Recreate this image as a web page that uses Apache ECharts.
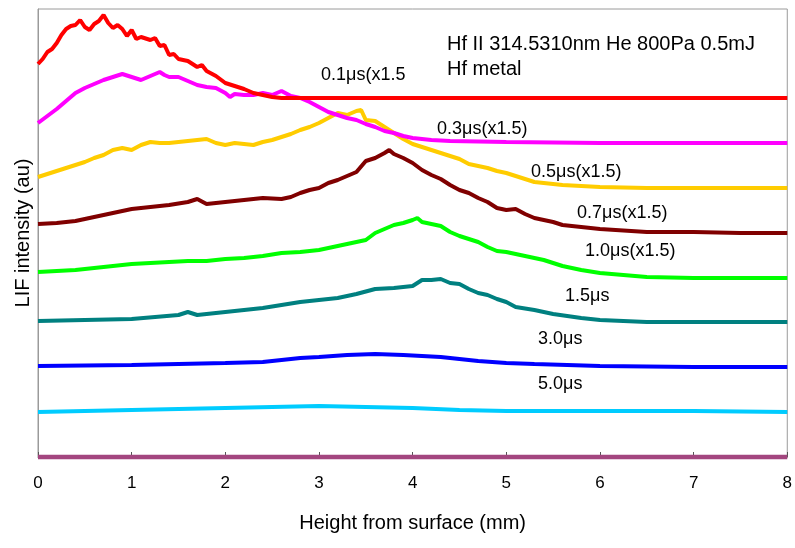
<!DOCTYPE html>
<html>
<head>
<meta charset="utf-8">
<script src="https://cdn.jsdelivr.net/npm/echarts@6/dist/echarts.min.js"></script>
<style>
  html, body { margin: 0; padding: 0; background: #fff; }
  #main { width: 795px; height: 548px; }
</style>
</head>
<body>
<div id="main"></div>
<script>
// x ticks (mm)
const xTicks = [0, 1, 2, 3, 4, 5, 6, 7, 8];

// LIF profiles, [height mm, intensity au] (curves are offset vertically like the original)
const s01 = [[0,393],[0.05,398],[0.1,405],[0.15,408],[0.2,414],[0.25,422],[0.3,428],[0.35,431],[0.4,432],[0.45,437],[0.5,430],[0.55,427],[0.6,433],[0.65,436],[0.7,442],[0.75,434],[0.8,429],[0.85,432],[0.9,428],[0.95,421],[1.0,427],[1.05,418],[1.1,420],[1.2,417],[1.25,419],[1.3,411],[1.35,412],[1.4,402],[1.45,403],[1.5,398],[1.6,396],[1.7,390],[1.75,392],[1.8,386],[1.9,381],[2.0,374],[2.1,371],[2.2,368],[2.3,364],[2.4,362],[2.5,360],[2.6,359],[2.8,359],[3.0,359],[4.0,359],[5.0,359],[6.0,359],[7.0,359],[8.0,359]];
const s03 = [[0,334],[0.1,341],[0.2,348],[0.3,356],[0.4,364],[0.5,369],[0.6,373],[0.7,377],[0.8,380],[0.9,383],[1.0,380],[1.1,377],[1.2,381],[1.3,385],[1.35,382],[1.4,380],[1.5,380],[1.6,376],[1.7,372],[1.8,370],[1.9,369],[2.0,364],[2.05,360],[2.1,363],[2.2,362],[2.3,362],[2.4,364],[2.5,362],[2.6,366],[2.7,361],[2.8,359],[2.9,355],[3.0,350],[3.1,345],[3.2,342],[3.3,339],[3.4,337],[3.5,333],[3.6,330],[3.7,326],[3.8,324],[3.9,321],[4.0,319],[4.2,317],[4.4,316],[5.0,315],[6.0,314],[7.0,314],[8.0,314]];
const s05 = [[0,280],[0.1,283],[0.2,286],[0.3,289],[0.4,292],[0.5,295],[0.6,299],[0.7,302],[0.8,307],[0.9,309],[1.0,307],[1.1,312],[1.2,315],[1.3,314],[1.4,314],[1.5,315],[1.6,316],[1.7,317],[1.8,318],[1.9,314],[2.0,312],[2.1,314],[2.2,313],[2.3,312],[2.4,315],[2.5,317],[2.6,320],[2.7,323],[2.8,327],[2.9,330],[3.0,334],[3.1,339],[3.2,344],[3.3,342],[3.4,346],[3.45,347],[3.5,337],[3.6,336],[3.7,330],[3.8,324],[3.9,318],[4.0,313],[4.1,310],[4.2,307],[4.3,304],[4.4,301],[4.5,298],[4.6,293],[4.7,291],[4.8,289],[4.9,286],[5.0,284],[5.1,281],[5.2,278],[5.3,275],[5.4,274],[5.5,273],[5.6,272],[5.8,271],[6.0,270],[6.5,269],[7.0,269],[8.0,269]];
const s07 = [[0,233],[0.2,234],[0.4,236],[0.6,240],[0.8,244],[1.0,248],[1.2,250],[1.4,252],[1.6,255],[1.7,258],[1.8,253],[2.0,255],[2.2,257],[2.4,259],[2.6,258],[2.7,260],[2.8,264],[2.9,267],[3.0,269],[3.1,274],[3.2,277],[3.3,281],[3.4,285],[3.5,296],[3.6,299],[3.7,304],[3.75,307],[3.8,303],[3.9,299],[4.0,294],[4.1,287],[4.2,282],[4.3,278],[4.4,272],[4.5,267],[4.6,264],[4.7,259],[4.8,255],[4.9,249],[5.0,247],[5.1,248],[5.2,243],[5.3,239],[5.4,237],[5.5,235],[5.6,232],[5.8,230],[6.0,228],[6.5,225],[7.0,225],[7.5,224],[8.0,224]];
const s10 = [[0,185],[0.2,186],[0.4,187],[0.6,189],[0.8,191],[1.0,193],[1.2,194],[1.4,195],[1.6,196],[1.8,196],[2.0,198],[2.2,199],[2.4,201],[2.6,204],[2.8,205],[3.0,207],[3.2,211],[3.4,215],[3.5,217],[3.6,224],[3.7,228],[3.8,232],[3.9,234],[4.0,237],[4.05,239],[4.1,235],[4.2,233],[4.3,231],[4.4,225],[4.5,221],[4.6,218],[4.7,215],[4.8,210],[4.9,206],[5.0,205],[5.2,201],[5.4,197],[5.6,191],[5.8,187],[6.0,184],[6.5,180],[7.0,179],[7.5,179],[8.0,179]];
const s15 = [[0,136],[0.5,137],[1.0,138],[1.5,142],[1.6,145],[1.7,142],[2.0,145],[2.4,149],[2.8,155],[3.0,157],[3.2,159],[3.4,163],[3.6,168],[3.8,169],[4.0,171],[4.1,177],[4.2,177],[4.3,178],[4.4,174],[4.5,173],[4.6,168],[4.7,164],[4.8,162],[4.9,158],[5.0,155],[5.1,150],[5.3,147],[5.5,143],[5.8,139],[6.0,137],[6.5,135],[7.0,135],[8.0,135]];
const s30 = [[0,91],[1.0,92],[1.5,93],[2.0,94],[2.4,95],[2.8,99],[3.0,100],[3.3,102],[3.6,103],[3.9,102],[4.3,100],[4.7,96],[5.0,94],[5.3,93],[6.0,91],[7.0,90],[8.0,90]];
const s50 = [[0,45],[1.0,47],[1.5,48],[2.0,49],[2.5,50],[3.0,51],[3.5,50],[4.0,49],[4.5,47],[5.0,46],[6.0,46],[7.0,46],[8.0,45]];
const sZero = [[0,0],[8,0]];

const seriesNames = ["zero", "5.0µs", "3.0µs", "1.5µs", "1.0µs(x1.5)", "0.7µs(x1.5)", "0.5µs(x1.5)", "0.3µs(x1.5)", "0.1µs(x1.5"];
const seriesData = [sZero, s50, s30, s15, s10, s07, s05, s03, s01];
const seriesColors = ["#a3467f", "#00ccff", "#0000ff", "#008080", "#00ff00", "#800000", "#ffcc00", "#ff00ff", "#ff0000"];

// labels next to each curve: [text, x px, y px]
const curveLabels = [
  ["0.1μs(x1.5", 321, 75],
  ["0.3μs(x1.5)", 437, 129],
  ["0.5μs(x1.5)", 531, 172],
  ["0.7μs(x1.5)", 577, 213],
  ["1.0μs(x1.5)", 585, 251],
  ["1.5μs", 565, 296],
  ["3.0μs", 538, 339],
  ["5.0μs", 538, 384],
];
const noteLines = [
  ["Hf II 314.5310nm He 800Pa 0.5mJ", 447, 44],
  ["Hf metal", 447, 69],
];

const FONT = "'Liberation Sans', Arial, sans-serif";

function loadChart() {
  const chart = echarts.init(document.getElementById("main"));

  const graphics = [];
  curveLabels.forEach(function (l) {
    graphics.push({
      type: "text", x: l[1], y: l[2], silent: true,
      style: { text: l[0], fontSize: 18, fontFamily: FONT, fill: "#000", align: "left", verticalAlign: "middle" },
    });
  });
  noteLines.forEach(function (l) {
    graphics.push({
      type: "text", x: l[1], y: l[2], silent: true,
      style: { text: l[0], fontSize: 20, fontFamily: FONT, fill: "#000", align: "left", verticalAlign: "middle" },
    });
  });

  chart.setOption({
    animation: false,
    backgroundColor: "#fff",
    grid: {
      left: 38,
      right: 5,
      top: 9,
      bottom: 91,
      show: true,
      borderColor: "#9a9a9a",
      borderWidth: 1,
    },
    xAxis: {
      type: "value",
      min: 0,
      max: 8,
      interval: 1,
      name: "Height from surface (mm)",
      nameLocation: "middle",
      nameGap: 56,
      nameTextStyle: { fontSize: 20, fontFamily: FONT, color: "#000" },
      axisLine: { show: true, lineStyle: { color: "#808080" } },
      axisTick: { show: true, inside: true, length: 5, lineStyle: { color: "#555" } },
      axisLabel: {
        fontSize: 17,
        fontFamily: FONT,
        color: "#000",
        margin: 18,
        formatter: function (v) {
          return xTicks.indexOf(v) >= 0 ? String(v) : "";
        },
      },
      splitLine: { show: false },
    },
    yAxis: {
      type: "value",
      min: 0,
      max: 448,
      name: "LIF intensity (au)",
      nameLocation: "middle",
      nameGap: 5,
      nameTextStyle: { fontSize: 20, fontFamily: FONT, color: "#000" },
      axisLine: { show: true, lineStyle: { color: "#9a9a9a" } },
      axisTick: { show: false },
      axisLabel: { show: false },
      splitLine: { show: false },
    },
    series: seriesData.map(function (d, i) {
      return {
        name: seriesNames[i],
        type: "line",
        data: d,
        showSymbol: false,
        clip: false,
        lineStyle: {
          color: seriesColors[i],
          width: i === 0 ? 4.5 : 4,
        },
        z: 2 + i,
      };
    }),
    graphic: graphics,
  });
}

loadChart();
</script>
</body>
</html>
